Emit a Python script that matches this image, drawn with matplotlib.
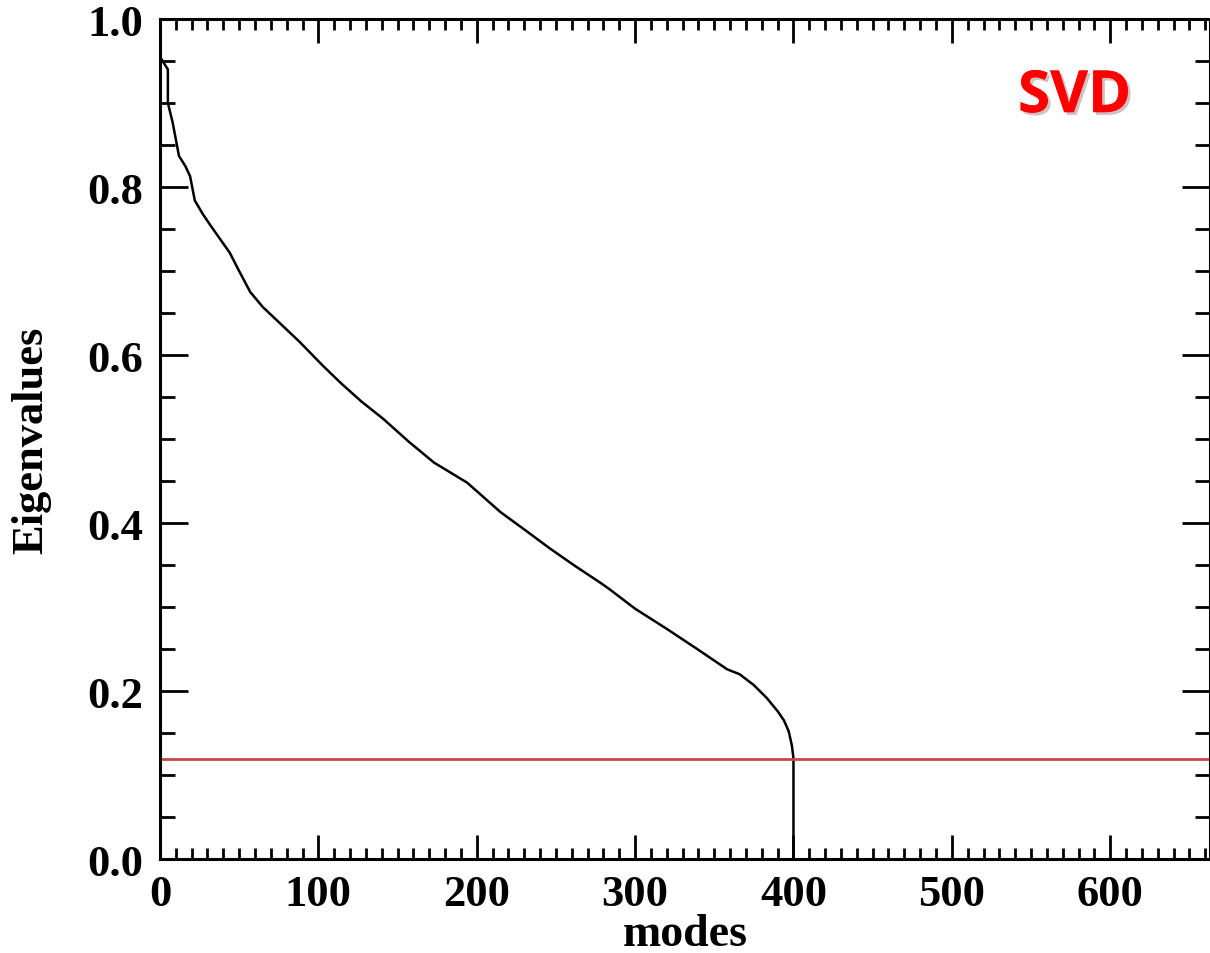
import matplotlib
matplotlib.use("Agg")
import matplotlib.pyplot as plt
import matplotlib.patheffects as pe
from matplotlib.ticker import MultipleLocator

# eigenvalue spectrum (mode index, normalised eigenvalue)
modes = [0, 0, 1, 5, 5, 8, 12, 16, 19, 22, 27, 32, 38, 44, 50, 57, 65, 74,
         88, 103, 114, 127, 141, 157, 173, 194, 215, 231, 246, 262, 278, 284,
         300, 320, 340, 358, 366, 375, 383, 390, 394, 397, 399, 400, 400]
eigenvalues = [1.0, 0.955, 0.952, 0.94, 0.90, 0.877, 0.837, 0.825, 0.813,
               0.784, 0.768, 0.754, 0.738, 0.722, 0.70, 0.675, 0.657, 0.641,
               0.616, 0.587, 0.567, 0.545, 0.524, 0.497, 0.472, 0.448, 0.413,
               0.391, 0.370, 0.349, 0.329, 0.321, 0.298, 0.274, 0.249, 0.226,
               0.220, 0.207, 0.192, 0.176, 0.165, 0.152, 0.135, 0.12, 0.0]
threshold = 0.119

fig = plt.figure(figsize=(12.1, 9.54), dpi=100)
ax = fig.add_axes([0.1322, 0.0985, 0.8678, 0.8805])

ax.plot(modes, eigenvalues, color="black", lw=1.8)
ax.axhline(threshold, color="#c84848", lw=2)

ax.set_xlim(0, 663)
ax.set_ylim(0, 1.0)

ax.xaxis.set_major_locator(MultipleLocator(100))
ax.xaxis.set_minor_locator(MultipleLocator(10))
ax.yaxis.set_major_locator(MultipleLocator(0.2))
ax.yaxis.set_minor_locator(MultipleLocator(0.05))
ax.yaxis.set_major_formatter(plt.FuncFormatter(lambda v, p: f"{v:.1f}"))

ax.tick_params(which="both", direction="in", top=True, right=True, width=2)
ax.tick_params(axis="x", which="major", length=17, pad=11)
ax.tick_params(axis="x", which="minor", length=8)
ax.tick_params(axis="y", which="major", length=20, pad=12)
ax.tick_params(axis="y", which="minor", length=11)
for lab in ax.get_xticklabels() + ax.get_yticklabels():
    lab.set_fontfamily("Liberation Serif")
    lab.set_fontweight("bold")
    lab.set_fontsize(32)
for sp in ax.spines.values():
    sp.set_linewidth(2.2)

ax.set_xlabel("modes", family="Liberation Serif", weight="bold", size=33, labelpad=-1)
ax.set_ylabel("Eigenvalues", family="Liberation Serif", weight="bold", size=32, labelpad=26)

ax.text(0.871, 0.907, "SVD", transform=ax.transAxes, color="#ff0000",
        family="Open Sans", weight="bold", fontsize=42, ha="center", va="center",
        path_effects=[pe.withSimplePatchShadow(offset=(2, -2), alpha=0.25), pe.Normal()])

fig.savefig("out.png", dpi=100)
